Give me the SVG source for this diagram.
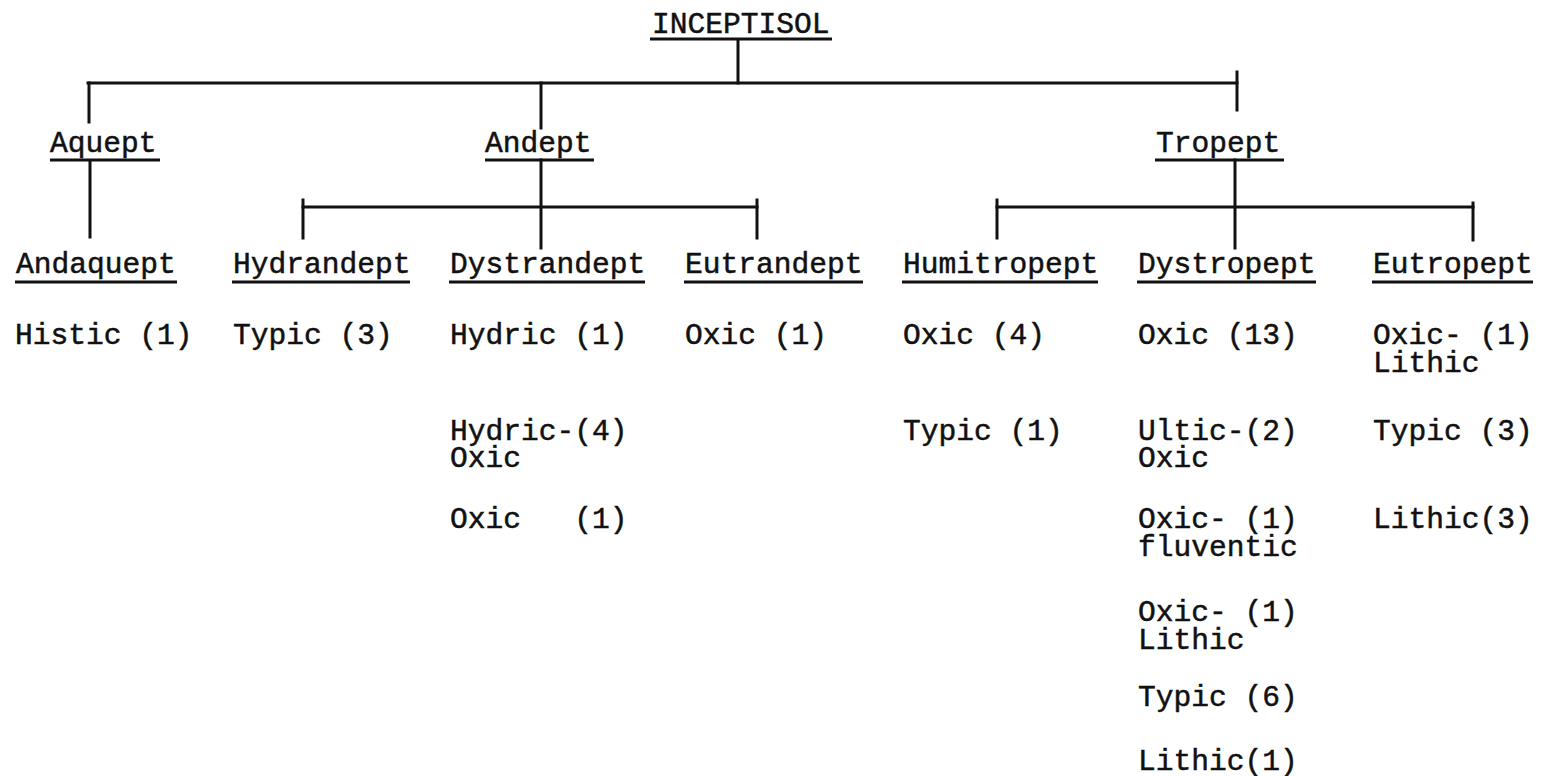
<svg xmlns="http://www.w3.org/2000/svg" width="1550" height="776" viewBox="0 0 1550 776">
  <style>
    .t { font-family: "Liberation Mono", "DejaVu Sans Mono", monospace; font-size: 29.6px; fill: #111; stroke: #111; stroke-width: 0.5px; }
    .u { stroke: #111; stroke-width: 3; fill: none; }
    .c { stroke: #111; stroke-width: 3; fill: none; stroke-linecap: square; }
  </style>
  <rect width="1550" height="776" fill="#fff"/>

  <!-- connector lines of the tree -->
  <g id="connectors">
    <path class="c" d="M738 40 V83"/>
    <path class="c" d="M88 83 H1237"/>
    <path class="c" d="M89 83 V122"/>
    <path class="c" d="M90 162 V237"/>
    <path class="c" d="M541 83 V128"/>
    <path class="c" d="M541 160 V248"/>
    <path class="c" d="M1237 72 V110"/>
    <path class="c" d="M303 207 H757"/>
    <path class="c" d="M303 200 V238"/>
    <path class="c" d="M757 200 V238"/>
    <path class="c" d="M1235 160 V248"/>
    <path class="c" d="M997 207 H1473"/>
    <path class="c" d="M997 200 V238"/>
    <path class="c" d="M1473 203 V240"/>
  </g>

  <!-- order -->
  <g id="inceptisol">
    <text class="t" x="652" y="33">INCEPTISOL</text>
    <path class="u" d="M650 39 H832"/>
  </g>

  <!-- suborders -->
  <g id="aquept">
    <text class="t" x="50" y="152">Aquept</text>
    <path class="u" d="M50 160 H160"/>
  </g>
  <g id="andept">
    <text class="t" x="485" y="152">Andept</text>
    <path class="u" d="M485 160 H594"/>
  </g>
  <g id="tropept">
    <text class="t" x="1156" y="152">Tropept</text>
    <path class="u" d="M1155 160 H1284"/>
  </g>

  <!-- great groups with their subgroups -->
  <g id="andaquept">
    <text class="t" x="16" y="273">Andaquept</text>
    <path class="u" d="M15 282 H177"/>
    <text class="t" x="15" y="344">Histic (1)</text>
  </g>
  <g id="hydrandept">
    <text class="t" x="233" y="273">Hydrandept</text>
    <path class="u" d="M232 282 H410"/>
    <text class="t" x="233" y="344">Typic (3)</text>
  </g>
  <g id="dystrandept">
    <text class="t" x="450" y="273">Dystrandept</text>
    <path class="u" d="M449 282 H645"/>
    <text class="t" x="450" y="344">Hydric (1)</text>
    <text class="t" x="450" y="440">Hydric-(4)</text>
    <text class="t" x="450" y="467">Oxic</text>
    <text class="t" x="450" y="528" xml:space="preserve">Oxic   (1)</text>
  </g>
  <g id="eutrandept">
    <text class="t" x="685" y="273">Eutrandept</text>
    <path class="u" d="M684 282 H863"/>
    <text class="t" x="685" y="344">Oxic (1)</text>
  </g>
  <g id="humitropept">
    <text class="t" x="903" y="273">Humitropept</text>
    <path class="u" d="M902 282 H1098"/>
    <text class="t" x="903" y="344">Oxic (4)</text>
    <text class="t" x="903" y="440">Typic (1)</text>
  </g>
  <g id="dystropept">
    <text class="t" x="1138" y="273">Dystropept</text>
    <path class="u" d="M1137 282 H1316"/>
    <text class="t" x="1138" y="344">Oxic (13)</text>
    <text class="t" x="1138" y="440">Ultic-(2)</text>
    <text class="t" x="1138" y="467">Oxic</text>
    <text class="t" x="1138" y="528">Oxic- (1)</text>
    <text class="t" x="1138" y="556">fluventic</text>
    <text class="t" x="1138" y="621">Oxic- (1)</text>
    <text class="t" x="1138" y="649">Lithic</text>
    <text class="t" x="1138" y="706">Typic (6)</text>
    <text class="t" x="1138" y="770">Lithic(1)</text>
  </g>
  <g id="eutropept">
    <text class="t" x="1373" y="273">Eutropept</text>
    <path class="u" d="M1372 282 H1533"/>
    <text class="t" x="1373" y="344">Oxic- (1)</text>
    <text class="t" x="1373" y="372">Lithic</text>
    <text class="t" x="1373" y="440">Typic (3)</text>
    <text class="t" x="1373" y="528">Lithic(3)</text>
  </g>
</svg>
